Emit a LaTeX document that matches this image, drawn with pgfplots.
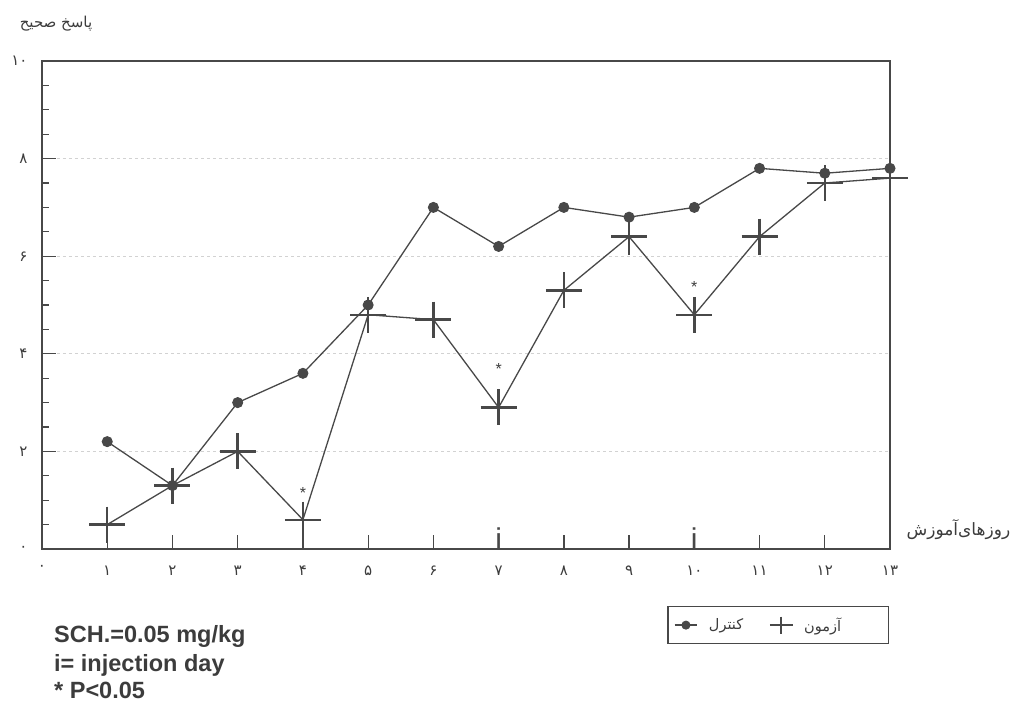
\documentclass[border=0pt]{standalone}
\usepackage{fontspec}
\setmainfont{Liberation Sans}
\newfontfamily\arabicfont[Script=Arabic]{DejaVu Sans}
\TeXXeTstate=1
\usepackage{pgfplots}
\pgfplotsset{compat=1.18}
\definecolor{ink}{HTML}{484848}
\definecolor{txt}{HTML}{3C3C3C}
\begin{document}
\begin{tikzpicture}
\path[use as bounding box] (-42pt,-152pt) rectangle (974pt,549pt);
\begin{axis}[
  at={(0,0)}, anchor=south west,
  scale only axis, width=848pt, height=488pt,
  xmin=0, xmax=13, ymin=0, ymax=10,
  clip=false,
  axis line style={ink, line width=1.4pt},
  xtick={0,...,13},
  xticklabels={۰,۱,۲,۳,۴,۵,۶,۷,۸,۹,۱۰,۱۱,۱۲,۱۳},
  ytick={0,2,4,6,8,10},
  yticklabels={۰,۲,۴,۶,۸,۱۰},
  minor y tick num=3,
  tick align=inside,
  xtick pos=bottom, ytick pos=left,
  major tick length=14pt, minor tick length=7pt,
  major tick style={ink, line width=1.3pt},
  minor tick style={ink, line width=1.1pt},
  xticklabel style={font=\arabicfont\fontsize{15}{15}\selectfont, text=txt, yshift=-13pt},
  yticklabel style={font=\arabicfont\fontsize{15}{15}\selectfont, text=txt, xshift=-11pt},
  legend columns=2,
  legend image code/.code={\draw[mark repeat=2, mark phase=2] plot coordinates {(0cm,0cm)(0.4cm,0cm)(0.8cm,0cm)};},
  legend style={at={(0.868,-0.156)}, anchor=center, draw=ink, line width=1.2pt,
    font=\arabicfont\fontsize{14.5}{14.5}\selectfont, text=txt,
    inner xsep=6pt, inner ysep=9pt,
    /tikz/every odd column/.append style={column sep=9pt},
    /tikz/every even column/.append style={column sep=24pt}},
]
% horizontal grid (drawn beside the major ticks, under the data)
\draw[dashed, gray!35, line width=0.7pt] ([xshift=15pt]axis cs:0,2) -- (axis cs:13,2);
\draw[dashed, gray!35, line width=0.7pt] ([xshift=15pt]axis cs:0,4) -- (axis cs:13,4);
\draw[dashed, gray!35, line width=0.7pt] ([xshift=15pt]axis cs:0,6) -- (axis cs:13,6);
\draw[dashed, gray!35, line width=0.7pt] ([xshift=15pt]axis cs:0,8) -- (axis cs:13,8);
\addplot[ink, line width=1.3pt, mark=*, mark size=5pt, mark options={fill=ink, line width=1pt},
  legend image post style={mark size=4pt}]
  coordinates {(1,2.2)(2,1.3)(3,3.0)(4,3.6)(5,5.0)(6,7.0)(7,6.2)(8,7.0)(9,6.8)(10,7.0)(11,7.8)(12,7.7)(13,7.8)};
\addlegendentry{\beginR کنترل\endR}
\addplot[ink, line width=1.3pt, mark=+, mark size=18pt, mark options={line width=2.4pt},
  legend image post style={mark size=8.5pt, mark options={line width=2.2pt}}]
  coordinates {(1,0.5)(2,1.3)(3,2.0)(4,0.6)(5,4.8)(6,4.7)(7,2.9)(8,5.3)(9,6.4)(10,4.8)(11,6.4)(12,7.5)(13,7.6)};
\addlegendentry{\hbox to 76pt{\beginR آزمون\endR\hss}}
% significance asterisks
\node[text=txt, font=\fontsize{16}{16}\selectfont, inner sep=0pt] at (axis cs:4,1.15) {*};
\node[text=txt, font=\fontsize{16}{16}\selectfont, inner sep=0pt] at (axis cs:7,3.68) {*};
\node[text=txt, font=\fontsize{16}{16}\selectfont, inner sep=0pt] at (axis cs:10,5.36) {*};
% injection days
\node[text=ink, font=\fontsize{30}{30}\selectfont, inner sep=0pt, anchor=base] at (axis cs:7,0) {i};
\node[text=ink, font=\fontsize{30}{30}\selectfont, inner sep=0pt, anchor=base] at (axis cs:10,0) {i};
% axis titles
\node[text=txt, font=\arabicfont\fontsize{15}{15}\selectfont, anchor=center] at ([xshift=14pt, yshift=37pt]axis cs:0,10) {\beginR پاسخ صحیح\endR};
\node[text=txt, font=\arabicfont\fontsize{17}{17}\selectfont, anchor=west] at ([xshift=13pt]axis cs:13,0.39) {\beginR روزهای^^^^200cآموزش\endR};
% notes
\node[text=txt, font=\bfseries\fontsize{23.5}{23.5}\selectfont, anchor=base west, inner sep=0pt] at ([xshift=12pt, yshift=-93pt]axis cs:0,0) {SCH.=0.05 mg/kg};
\node[text=txt, font=\bfseries\fontsize{23.5}{23.5}\selectfont, anchor=base west, inner sep=0pt] at ([xshift=12pt, yshift=-122pt]axis cs:0,0) {i= injection day};
\node[text=txt, font=\bfseries\fontsize{23.5}{23.5}\selectfont, anchor=base west, inner sep=0pt] at ([xshift=12pt, yshift=-149pt]axis cs:0,0) {* P<0.05};
\end{axis}
\end{tikzpicture}
\end{document}
